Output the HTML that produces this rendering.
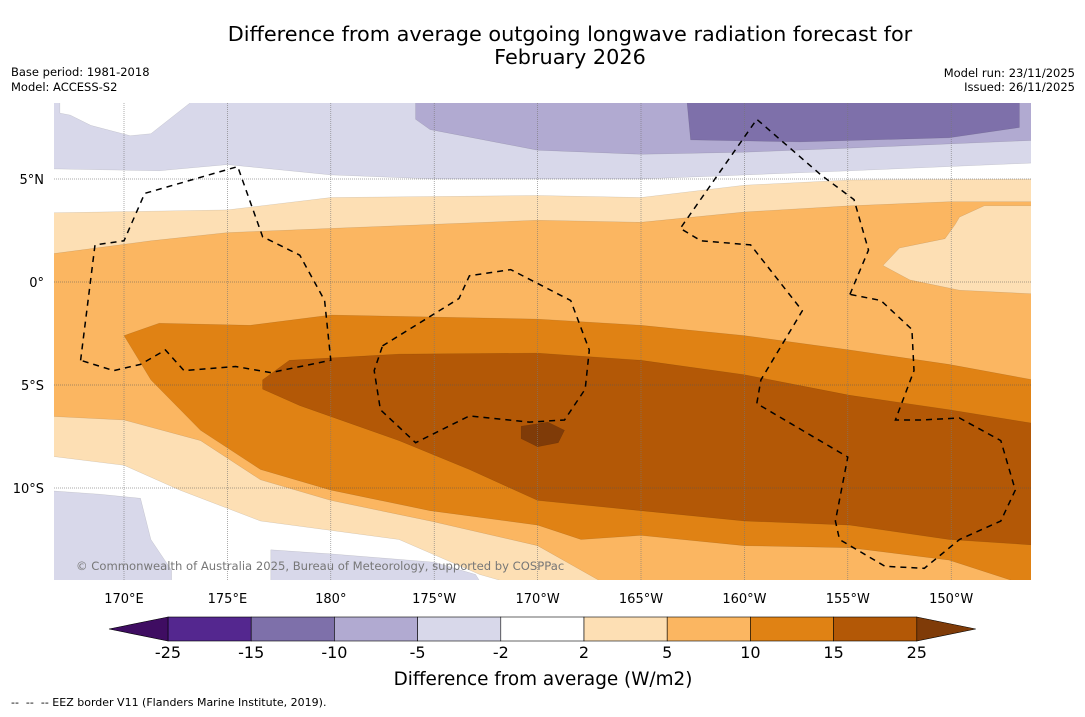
<!DOCTYPE html>
<html><head><meta charset="utf-8"><style>
html,body{margin:0;padding:0;background:#fff;}
body{width:1085px;height:713px;overflow:hidden;font-family:"DejaVu Sans",sans-serif;}
</style></head><body>
<svg id="chart" width="1085" height="713" xmlns="http://www.w3.org/2000/svg" font-family="DejaVu Sans, sans-serif">
<defs><clipPath id="mapclip"><rect x="54" y="103" width="977" height="477"/></clipPath></defs>
<text x="570" y="41" font-size="20.8" text-anchor="middle">Difference from average outgoing longwave radiation forecast for</text>
<text x="570" y="64" font-size="20.8" text-anchor="middle">February 2026</text>
<text x="11" y="76" font-size="11.5">Base period: 1981-2018</text>
<text x="11" y="91" font-size="11.5">Model: ACCESS-S2</text>
<text x="1075" y="77" font-size="11.5" text-anchor="end">Model run: 23/11/2025</text>
<text x="1075" y="91" font-size="11.5" text-anchor="end">Issued: 26/11/2025</text>
<g id="map" clip-path="url(#mapclip)"></g>
<g id="grid"></g>
<g id="eez" clip-path="url(#mapclip)"></g>
<text x="76" y="570" font-size="11.6" fill="#777">© Commonwealth of Australia 2025, Bureau of Meteorology, supported by COSPPac</text>
<g id="axes"></g>
<g id="cbar"></g>
<text x="543" y="685" font-size="18.4" text-anchor="middle">Difference from average (W/m2)</text>
<text x="11" y="706" font-size="11" xml:space="preserve">--  --  -- EEZ border V11 (Flanders Marine Institute, 2019).</text>
</svg>
<script>
const lonTicks=[170,175,180,185,190,195,200,205,210];
const lonLabels=["170°E","175°E","180°","175°W","170°W","165°W","160°W","155°W","150°W"];
const latTicks=[5,0,-5,-10];
const latLabels=["5°N","0°","5°S","10°S"];
const levels=[-25,-15,-10,-5,-2,2,5,10,15,25];
const levelColors=["#54278f","#7e70aa","#b1aad1","#d8d8ea","#ffffff","#fddfb4","#fbb661","#e08214","#b35806"];
const lav5=[[166,9],[214.5,9],[214.5,5.8],[205.1,5.4],[195,5.0],[185,5.0],[180,5.2],[175,5.7],[171.7,5.4],[166,5.5]];
const white0=[[166,9],[173.2,9],[173.2,8.7],[171.3,7.2],[170.3,7.1],[168.4,7.6],[167.4,8.1],[166.9,8.2],[166.9,9]];
const lav10=[[184.1,9],[214.5,9],[214.5,6.9],[205.1,6.5],[200,6.3],[195,6.2],[190,6.4],[184.8,7.4],[184.1,7.9]];
const pur15=[[197.2,9],[213.3,9],[213.3,7.5],[209.9,7.0],[202.7,6.8],[197.4,6.9]];
const lavBL=[[166,-10.1],[168.8,-10.3],[170.8,-10.5],[171.3,-12.5],[172.3,-14.0],[172.3,-15],[166,-15]];
const lavB2=[[177.1,-15],[177.1,-13],[180,-13.2],[185,-13.6],[187,-14.2],[187.5,-15]];
const band2=[[166,3.35],[175,3.5],[180,4.1],[190,4.2],[195,4.1],[200,4.7],[205.1,4.95],[214.5,5.0],[214.5,-15],[190,-15],[187.2,-14.2],[183.3,-12.5],[176.6,-11.6],[172.7,-10.1],[170,-8.9],[166,-8.4]];
const band5=[[166,1.3],[171.3,2.0],[175,2.4],[180,2.6],[190,3.0],[195,2.9],[200,3.4],[205.1,3.7],[209.9,3.9],[214.5,3.9],[214.5,-15],[195,-15],[193,-14.5],[190,-12.8],[184.8,-11.6],[180,-10.6],[176.6,-9.6],[173.7,-7.7],[170,-6.7],[166,-6.5]];
const patch2=[[206.7,0.8],[207.5,1.65],[209.7,2.1],[210.2,2.8],[210.4,3.15],[211.6,3.7],[214.5,3.7],[214.5,-0.6],[210.4,-0.4],[208,0.1]];
const band10=[[170,-2.6],[171.7,-2.0],[176.1,-2.1],[180,-1.6],[190,-1.8],[195,-2.1],[200,-2.6],[205.1,-3.3],[209.9,-4.0],[214.5,-4.85],[214.5,-15],[209.9,-13.5],[205.1,-12.9],[200,-12.8],[195,-12.3],[192.1,-12.5],[190,-11.8],[184.8,-11.1],[180,-10.1],[176.6,-9.1],[173.7,-7.2],[171.3,-4.75]];
const band15=[[176.7,-4.75],[178,-3.8],[183.3,-3.5],[190,-3.45],[195,-3.8],[200,-4.5],[205.1,-5.5],[209.9,-6.2],[214.5,-6.95],[214.5,-12.8],[209.9,-12.5],[205.1,-11.8],[200,-11.6],[195,-11.1],[190,-10.6],[186.7,-9.1],[183.3,-7.7],[178.5,-6.0],[176.7,-5.2]];
const band25=[[189.2,-7.0],[190.5,-6.8],[191.3,-7.2],[191,-7.8],[190,-8.0],[189.2,-7.6]];
const eezWest=[[167.9,-3.8],[168.6,1.8],[170,2.0],[171,4.3],[175.5,5.6],[176.7,2.2],[178.5,1.3],[179.7,-0.9],[180,-3.8],[177.1,-4.4],[175.4,-4.1],[172.9,-4.3],[172,-3.3],[170.8,-4.0],[169.5,-4.3],[167.9,-3.8]];
const eezMid=[[182.5,-3.1],[186.2,-0.8],[186.7,0.3],[188.7,0.6],[191.6,-0.9],[192.5,-3.3],[192.3,-5.2],[191.3,-6.7],[189.6,-6.8],[186.7,-6.5],[184.1,-7.8],[182.4,-6.2],[182.1,-4.3],[182.5,-3.1]];
const eezEast=[[205.1,-0.6],[206,1.55],[205.3,4.0],[203.7,5.2],[200.6,7.9],[196.9,2.6],[197.9,2.0],[200.3,1.8],[202.8,-1.4],[200.8,-4.75],[200.6,-5.9],[205,-8.5],[204.4,-11.6],[204.6,-12.5],[206.8,-13.8],[208.7,-13.9],[210.4,-12.5],[212.4,-11.6],[213.1,-10.1],[212.4,-7.7],[210.4,-6.6],[208.5,-6.7],[207.3,-6.7],[208.2,-4.3],[208.1,-2.3],[206.6,-0.9],[205.1,-0.6]];
const NS="http://www.w3.org/2000/svg";
const xs=lon=>124+(lon-170)*20.68;
const ys=lat=>282-lat*20.6;
const pts=a=>a.map(p=>xs(p[0]).toFixed(1)+","+ys(p[1]).toFixed(1)).join(" ");
const map=document.getElementById("map");
const bg=document.createElementNS(NS,"rect");
bg.setAttribute("x",54);bg.setAttribute("y",103);bg.setAttribute("width",977);bg.setAttribute("height",477);bg.setAttribute("fill","#fff");


map.appendChild(bg);
const layers=[[lav5,3,"band-neg5"],[white0,4,"band-neutral-nw"],[lav10,2,"band-neg10"],[pur15,1,"band-neg15"],[lavBL,3,"band-neg5-sw"],[lavB2,3,"band-neg5-s"],[band2,5,"band-pos2"],[band5,6,"band-pos5"],[patch2,5,"band-pos2-east"],[band10,7,"band-pos10"],[band15,8,"band-pos15"],[band25,8,"band-pos25"]];
layers.forEach(l=>{
 const p=document.createElementNS(NS,"polygon");
 p.setAttribute("points",pts(l[0]));
 p.setAttribute("fill",l[2]==="band-pos25"?"#7f3b08":levelColors[l[1]]);
 p.setAttribute("stroke","rgba(0,0,0,0.15)");p.setAttribute("stroke-width","0.5");
 
 
 map.appendChild(p);
});
const grid=document.getElementById("grid");
lonTicks.forEach(lon=>{
 const l=document.createElementNS(NS,"line");
 l.setAttribute("x1",xs(lon));l.setAttribute("x2",xs(lon));l.setAttribute("y1",103);l.setAttribute("y2",580);
 l.setAttribute("stroke","#777");l.setAttribute("stroke-width","0.6");l.setAttribute("stroke-dasharray","1,1");
 
 
 grid.appendChild(l);
});
latTicks.forEach(lat=>{
 const l=document.createElementNS(NS,"line");
 l.setAttribute("x1",54);l.setAttribute("x2",1031);l.setAttribute("y1",ys(lat));l.setAttribute("y2",ys(lat));
 l.setAttribute("stroke","#555");l.setAttribute("stroke-width","0.6");l.setAttribute("stroke-dasharray","1,1");
 
 
 grid.appendChild(l);
});
const eez=document.getElementById("eez");
[eezWest,eezMid,eezEast].forEach((a,i)=>{
 const p=document.createElementNS(NS,"polyline");
 p.setAttribute("points",pts(a));p.setAttribute("fill","none");p.setAttribute("stroke","#000");
 p.setAttribute("stroke-width","1.5");p.setAttribute("stroke-dasharray","6,5");
 
 
 eez.appendChild(p);
});
const axes=document.getElementById("axes");
lonTicks.forEach((lon,i)=>{
 const t=document.createElementNS(NS,"text");
 t.setAttribute("x",xs(lon));t.setAttribute("y",603);t.setAttribute("font-size","13");t.setAttribute("text-anchor","middle");
 t.textContent=lonLabels[i];
 
 
 axes.appendChild(t);
});
latTicks.forEach((lat,i)=>{
 const t=document.createElementNS(NS,"text");
 t.setAttribute("x",44);t.setAttribute("y",ys(lat)+5);t.setAttribute("font-size","13");t.setAttribute("text-anchor","end");
 t.textContent=latLabels[i];
 
 
 axes.appendChild(t);
});
const cb=document.getElementById("cbar");
const cx0=168,cw=83.2,cy=617,ch=24;
levelColors.forEach((c,i)=>{
 const r=document.createElementNS(NS,"rect");
 r.setAttribute("x",cx0+i*cw);r.setAttribute("y",cy);r.setAttribute("width",cw);r.setAttribute("height",ch);
 r.setAttribute("fill",c);r.setAttribute("stroke","#000");r.setAttribute("stroke-width","0.6");
 
 
 cb.appendChild(r);
});
const tl=document.createElementNS(NS,"polygon");
tl.setAttribute("points",`${cx0},${cy} 109,${cy+ch/2} ${cx0},${cy+ch}`);tl.setAttribute("fill","#3f0d62");tl.setAttribute("stroke","#000");tl.setAttribute("stroke-width","0.6");


cb.appendChild(tl);
const xe=cx0+levelColors.length*cw;
const tr=document.createElementNS(NS,"polygon");
tr.setAttribute("points",`${xe},${cy} ${xe+59},${cy+ch/2} ${xe},${cy+ch}`);tr.setAttribute("fill","#7f3b08");tr.setAttribute("stroke","#000");tr.setAttribute("stroke-width","0.6");


cb.appendChild(tr);
levels.forEach((v,i)=>{
 const t=document.createElementNS(NS,"text");
 t.setAttribute("x",cx0+i*cw);t.setAttribute("y",658);t.setAttribute("font-size","16");t.setAttribute("text-anchor","middle");
 t.textContent=v;
 
 
 cb.appendChild(t);
});
</script>
</body></html>
